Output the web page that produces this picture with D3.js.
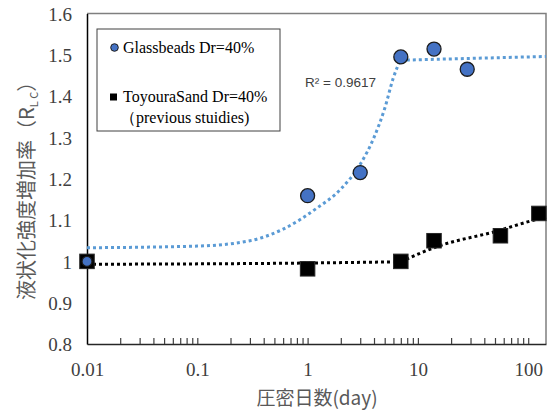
<!DOCTYPE html>
<html>
<head>
<meta charset="utf-8">
<script src="https://cdn.jsdelivr.net/npm/d3@7"></script>
<style>
  html, body { margin: 0; padding: 0; background: #fff; }
  svg { display: block; }
</style>
</head>
<body>
<svg id="chart" width="552" height="419"></svg>
<script>
// ---- data ----
const glassDays = [0.01, 1, 3, 7, 14, 28];
const glassR    = [1.0, 1.159, 1.215, 1.495, 1.514, 1.465];

const toyouraDays = [0.01, 1, 7, 14, 56, 125];
const toyouraR    = [1.0, 0.982, 1.0, 1.05, 1.062, 1.116];

// trend lines
const glassTrendADays = [0.01, 0.1, 0.3, 0.6, 1.2, 2, 3, 4, 5, 6, 7];
const glassTrendAR    = [1.033, 1.037, 1.050, 1.078, 1.128, 1.175, 1.235, 1.300, 1.370, 1.445, 1.49];
const glassTrendBDays = [7, 145];
const glassTrendBR    = [1.487, 1.496];

const toyouraTrendADays = [0.01, 1, 7];
const toyouraTrendAR    = [0.993, 0.996, 0.999];
const toyouraTrendBDays = [7, 15, 50, 125, 145];
const toyouraTrendBR    = [0.999, 1.036, 1.072, 1.103, 1.107];

const xMajorTicks = [0.01, 0.1, 1, 10, 100];
const xTickLabels = ["0.01", "0.1", "1", "10", "100"];
const yTicks      = [0.8, 0.9, 1.0, 1.1, 1.2, 1.3, 1.4, 1.5, 1.6];
const yTickLabels = ["0.8", "0.9", "1", "1.1", "1.2", "1.3", "1.4", "1.5", "1.6"];

const legendLabels = ["Glassbeads Dr=40%", "ToyouraSand Dr=40%", "（previous stuidies)"];
const r2Label = "R² = 0.9617";
const xTitle = "圧密日数(day)";

// ---- layout ----
const L = 87, R = 546, T = 13.5, B = 344;
const svg = d3.select("#chart");
const x = d3.scaleLog().domain([0.01, 145]).range([L, R]);
const y = d3.scaleLinear().domain([0.8, 1.6]).range([B, T]);

const serif = "'Liberation Serif', 'Times New Roman', serif";
const sans = "'Noto Sans CJK JP', 'Noto Sans', sans-serif";

// plot frame (top/right gray)
svg.append("path")
  .attr("d", `M${L},${T}H${R}V${B}`)
  .attr("fill", "none").attr("stroke", "#7f7f7f").attr("stroke-width", 1.5);

// x axis with inside ticks
const allXTicks = x.ticks().filter(d => d > 0.01 && d <= 145);
const gx = svg.append("g").attr("transform", `translate(0,${B})`)
  .call(d3.axisBottom(x).tickValues(allXTicks).tickSize(-6).tickSizeOuter(0).tickFormat(""));
gx.select(".domain").attr("stroke", "#262626").attr("stroke-width", 1.5);
gx.selectAll(".tick line").attr("stroke", "#404040").attr("stroke-width", 1.2);

const gxl = svg.append("g").attr("transform", `translate(0,${B})`)
  .call(d3.axisBottom(x).tickValues(xMajorTicks).tickSize(0)
    .tickFormat((d, i) => xTickLabels[i]));
gxl.select(".domain").remove();
gxl.selectAll("text")
  .attr("y", 31.7).attr("dy", null)
  .attr("font-family", serif).attr("font-size", 19).attr("fill", "#404040");

// y axis (labels only)
const gy = svg.append("g").attr("transform", `translate(${L},0)`)
  .call(d3.axisLeft(y).tickValues(yTicks).tickSize(0).tickPadding(15)
    .tickFormat((d, i) => yTickLabels[i]));
gy.select(".domain").attr("stroke", "#000").attr("stroke-width", 1.5);
gy.selectAll("text")
  .attr("dy", 6.7)
  .attr("font-family", serif).attr("font-size", 19).attr("fill", "#404040");

// trend lines
const line = d3.line().x(d => x(d[0])).y(d => y(d[1])).curve(d3.curveMonotoneX);
function trend(days, vals, color) {
  svg.append("path")
    .datum(days.map((d, i) => [d, vals[i]]))
    .attr("d", line)
    .attr("fill", "none").attr("stroke", color)
    .attr("stroke-width", 3).attr("stroke-dasharray", "3,3");
}
trend(glassTrendADays, glassTrendAR, "#5b9bd5");
trend(glassTrendBDays, glassTrendBR, "#5b9bd5");
trend(toyouraTrendADays, toyouraTrendAR, "#000");
trend(toyouraTrendBDays, toyouraTrendBR, "#000");

// markers
const sq = 14.5;
svg.append("g").selectAll("rect")
  .data(toyouraDays.map((d, i) => [d, toyouraR[i]]))
  .join("rect")
  .attr("x", d => x(d[0]) - sq / 2).attr("y", d => y(d[1]) - sq / 2)
  .attr("width", sq).attr("height", sq)
  .attr("fill", "#000").attr("stroke", "#262626").attr("stroke-width", 1);

svg.append("g").selectAll("circle")
  .data(glassDays.map((d, i) => [d, glassR[i]]))
  .join("circle")
  .attr("cx", d => x(d[0])).attr("cy", d => y(d[1]))
  .attr("r", (d, i) => i === 0 ? 5 : 7)
  .attr("fill", "#4472c4").attr("stroke", "#1c1c1c").attr("stroke-width", 1.3);

// R^2 label
svg.append("text").attr("x", 305).attr("y", 87)
  .attr("font-family", "'Liberation Sans', Arial, sans-serif").attr("font-size", 13.5)
  .attr("fill", "#404040").text(r2Label);

// legend
const lg = svg.append("g");
lg.append("rect").attr("x", 97).attr("y", 29).attr("width", 183).attr("height", 102)
  .attr("fill", "#fff").attr("stroke", "#404040").attr("stroke-width", 1);
lg.append("circle").attr("cx", 114.5).attr("cy", 47.5).attr("r", 3.8)
  .attr("fill", "#4472c4").attr("stroke", "#1c1c1c").attr("stroke-width", 1);
lg.append("rect").attr("x", 110).attr("y", 93.5).attr("width", 7).attr("height", 7)
  .attr("fill", "#000");
lg.append("text").attr("x", 123).attr("y", 53.3).attr("font-family", serif)
  .attr("font-size", 16).attr("fill", "#000").text(legendLabels[0]);
lg.append("text").attr("x", 123).attr("y", 102).attr("font-family", serif)
  .attr("font-size", 16).attr("fill", "#000").text(legendLabels[1]);
lg.append("text").attr("x", 120).attr("y", 122.7).attr("font-family", serif)
  .attr("font-size", 16).attr("fill", "#000").text(legendLabels[2]);

// axis titles
svg.append("text").attr("x", 317).attr("y", 405).attr("text-anchor", "middle")
  .attr("font-family", sans).attr("font-size", 19).attr("fill", "#595959").text(xTitle);

const yt = svg.append("text")
  .attr("transform", "translate(33.5,300) rotate(-90)")
  .attr("font-family", sans).attr("font-size", 20).attr("fill", "#595959");
yt.append("tspan").text("液状化強度増加率（R");
yt.append("tspan").attr("font-size", 11).attr("dy", 4).text("L C");
yt.append("tspan").attr("dy", -4).text("）");
</script>
</body>
</html>
